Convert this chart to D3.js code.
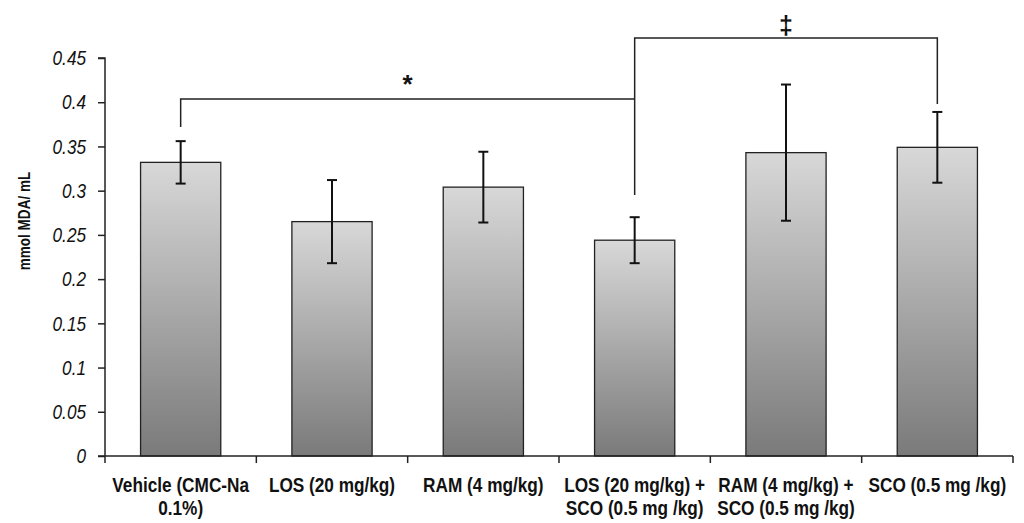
<!DOCTYPE html>
<html><head><meta charset="utf-8">
<script src="https://cdn.jsdelivr.net/npm/d3@7"></script>
<style>body{margin:0;background:#fff;}svg{display:block;}</style>
</head><body>
<svg id="c" width="1024" height="523"></svg>
<script>
const categories = [
  ["Vehicle (CMC-Na", "0.1%)"],
  ["LOS (20 mg/kg)"],
  ["RAM (4 mg/kg)"],
  ["LOS (20 mg/kg) +", "SCO (0.5 mg /kg)"],
  ["RAM (4 mg/kg) +", "SCO (0.5 mg /kg)"],
  ["SCO (0.5 mg /kg)"]
];
const means = [0.332, 0.265, 0.304, 0.244, 0.343, 0.349];
const errors = [0.024, 0.047, 0.040, 0.026, 0.077, 0.040];
const yTicks = [0, 0.05, 0.1, 0.15, 0.2, 0.25, 0.3, 0.35, 0.4, 0.45];
const yTickLabels = ["0", "0.05", "0.1", "0.15", "0.2", "0.25", "0.3", "0.35", "0.4", "0.45"];
const brackets = [
  {from: 0, to: 3, level: 0.4037, leftEnd: 0.372, rightEnd: 0.4037, symbol: "*"},
  {from: 3, to: 5, level: 0.4727, leftEnd: 0.295, rightEnd: 0.398, symbol: "\u2021"}
];

const FONT = "Liberation Sans, Arial, sans-serif";
const NARROW = 0.82;
const svg = d3.select("#c");
const m = {left: 105, right: 11, top: 58, bottom: 67};
const W = 1024, H = 523;
const x = d3.scaleBand().domain(d3.range(categories.length)).range([m.left, W - m.right]).paddingInner(0.47).paddingOuter(0.235);
const y = d3.scaleLinear().domain([0, 0.45]).range([H - m.bottom, m.top]);

const defs = svg.append("defs");
const g = defs.append("linearGradient").attr("id", "bg").attr("x1", 0).attr("y1", 0).attr("x2", 0).attr("y2", 1);
g.append("stop").attr("offset", "0%").attr("stop-color", "#d8d8d8");
g.append("stop").attr("offset", "100%").attr("stop-color", "#7a7a7a");

// bars
svg.append("g").selectAll("rect").data(means).join("rect")
  .attr("x", (d, i) => x(i)).attr("width", x.bandwidth())
  .attr("y", d => y(d)).attr("height", d => y(0) - y(d))
  .attr("fill", "url(#bg)").attr("stroke", "#222").attr("stroke-width", 1.3);

// error bars
const eb = svg.append("g").attr("stroke", "#111").attr("stroke-width", 2);
means.forEach((d, i) => {
  const cx = x(i) + x.bandwidth() / 2;
  eb.append("line").attr("x1", cx).attr("x2", cx).attr("y1", y(d + errors[i])).attr("y2", y(d - errors[i]));
  eb.append("line").attr("x1", cx - 5).attr("x2", cx + 5).attr("y1", y(d + errors[i])).attr("y2", y(d + errors[i]));
  eb.append("line").attr("x1", cx - 5).attr("x2", cx + 5).attr("y1", y(d - errors[i])).attr("y2", y(d - errors[i]));
});

// y axis
const ya = svg.append("g").attr("transform", `translate(${m.left},0)`)
  .call(d3.axisLeft(y).tickValues(yTicks).tickFormat(() => "").tickSize(7));
ya.select(".domain").attr("stroke", "#222").attr("stroke-width", 1.5).attr("d", `M-7,${y(0.45)}H0V${y(0)}`);
ya.selectAll(".tick line").attr("stroke", "#222").attr("stroke-width", 1.5);
ya.selectAll(".tick text").remove();
svg.append("g").selectAll("text").data(yTicks).join("text")
  .attr("transform", d => `translate(${m.left - 19},${y(d)}) scale(0.86,1)`)
  .attr("dy", "0.36em").attr("text-anchor", "end")
  .attr("font-family", FONT).attr("font-style", "italic").attr("font-size", 20).attr("fill", "#111")
  .text((d, i) => yTickLabels[i]);

// x axis
const xa = svg.append("g").attr("transform", `translate(0,${y(0)})`);
xa.append("line").attr("x1", m.left - 7).attr("x2", W - m.right).attr("stroke", "#222").attr("stroke-width", 1.5);
const bounds = d3.range(categories.length + 1).map(i => m.left + i * (W - m.left - m.right) / categories.length);
xa.selectAll("line.tk").data(bounds).join("line").attr("class", "tk")
  .attr("x1", d => d).attr("x2", d => d).attr("y1", 0).attr("y2", 7).attr("stroke", "#222").attr("stroke-width", 1.5);
const lab = xa.selectAll("text").data(categories).join("text")
  .attr("font-family", FONT)
  .attr("font-weight", "bold").attr("font-size", 21).attr("fill", "#111")
  .attr("text-anchor", "middle")
  .attr("transform", (d, i) => `translate(${x(i) + x.bandwidth() / 2},0) scale(${NARROW},1)`);
lab.selectAll("tspan").data(d => d).join("tspan")
  .attr("x", 0).attr("y", (d, j) => 35.7 + j * 23.3).text(d => d);

// y label
svg.append("text").attr("transform", `translate(30,221) rotate(-90) scale(${NARROW},1)`)
  .attr("text-anchor", "middle").attr("font-family", FONT)
  .attr("font-weight", "bold").attr("font-size", 16.5).attr("fill", "#111").text("mmol MDA/ mL");

// brackets
const br = svg.append("g").attr("fill", "none").attr("stroke", "#222").attr("stroke-width", 1.5);
brackets.forEach(b => {
  const x1 = x(b.from) + x.bandwidth() / 2, x2 = x(b.to) + x.bandwidth() / 2;
  br.append("path").attr("d", `M${x1},${y(b.leftEnd)}V${y(b.level)}H${x2}V${y(b.rightEnd)}`);
  svg.append("text").attr("x", (x1 + x2) / 2).attr("y", y(b.level) - (b.symbol === "*" ? 6 : 4))
    .attr("text-anchor", "middle").attr("font-family", FONT)
    .attr("font-weight", "bold").attr("font-size", b.symbol === "*" ? 26 : 25).attr("fill", "#111").text(b.symbol);
});
</script>
</body></html>
